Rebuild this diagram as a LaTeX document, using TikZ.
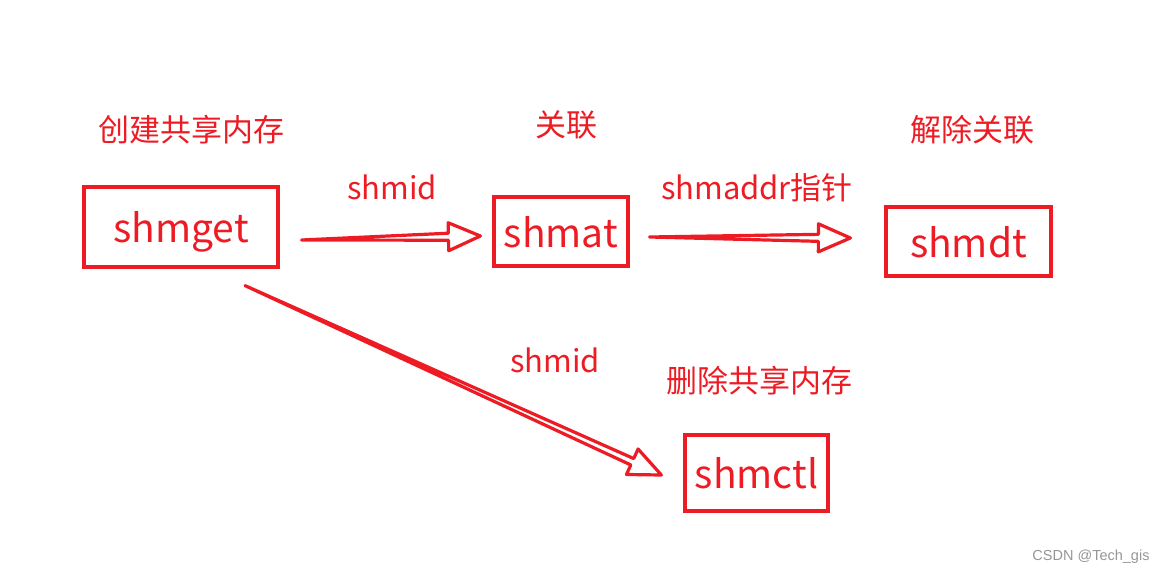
\documentclass[tikz,border=0pt]{standalone}
\usepackage{fontspec}
\setmainfont{Noto Sans CJK SC}
\newfontfamily\wmfont{Liberation Sans}
\usetikzlibrary{calc}
\definecolor{pred}{RGB}{237,28,36}
\definecolor{wmgray}{RGB}{150,150,150}
\tikzset{
  callbox/.style={draw=pred,line width=3.2pt,text=pred,inner sep=0pt,text depth=0pt,
    font=\fontsize{39}{41}\selectfont},
  lab/.style={text=pred,inner sep=0pt,font=\fontsize{31}{34}\selectfont},
  hollow/.style={draw=pred,line width=3.2pt,line join=round},
}
% hollow arrow, tail #1 to tip #2
\newcommand{\hollowarrow}[2]{%
  \coordinate (#1b) at ($(#2)!32pt!(#1)$);
  \draw[hollow] (#1) -- ($(#1b)!3.5pt!-90:(#2)$) -- ($(#1b)!14pt!-90:(#2)$)
    -- (#2) -- ($(#1b)!14pt!90:(#2)$) -- ($(#1b)!3.5pt!90:(#2)$) -- cycle;}
\begin{document}
\begin{tikzpicture}[x=1pt,y=-1pt]
\useasboundingbox (0,0) rectangle (1173,575);
%boxes
\node[callbox,minimum width=194,minimum height=80] (shmget) at (181,227) {shmget};
\node[callbox,minimum width=134,minimum height=69] (shmat) at (561,231.5) {shmat};
\node[callbox,minimum width=165,minimum height=69] (shmdt) at (968.5,241.5) {shmdt};
\node[callbox,minimum width=143,minimum height=76] (shmctl) at (756.5,473) {shmctl};
%labels
\node[lab] (create) at (191,130) {创建共享内存};
\node[lab] (attach) at (566,125) {关联};
\node[lab] (detach) at (972,130) {解除关联};
\node[lab] (remove) at (759,381) {删除共享内存};
\node[lab] (id1) at (392,187) {shmid};
\node[lab] (addr) at (757,188) {shmaddr指针};
\node[lab] (id2) at (555,360) {shmid};
%arrows
\coordinate (t1) at ($(shmget.east)+(22,13)$);
\coordinate (h1) at ($(shmat.west)+(-12,4.5)$);
\coordinate (t2) at ($(shmat.east)+(20,5.5)$);
\coordinate (h2) at ($(shmdt.west)+(-34,-3.5)$);
\coordinate (t3) at ($(shmget.south)+(64,17)$);
\coordinate (h3) at ($(shmctl.west)+(-22,2)$);
\hollowarrow{t1}{h1}
\hollowarrow{t2}{h2}
\hollowarrow{t3}{h3}
\node[text=wmgray,inner sep=0pt,font=\wmfont\fontsize{14.5}{16}\selectfont] (mark) at (1091,557) {CSDN @Tech\_gis};
\end{tikzpicture}
\end{document}
